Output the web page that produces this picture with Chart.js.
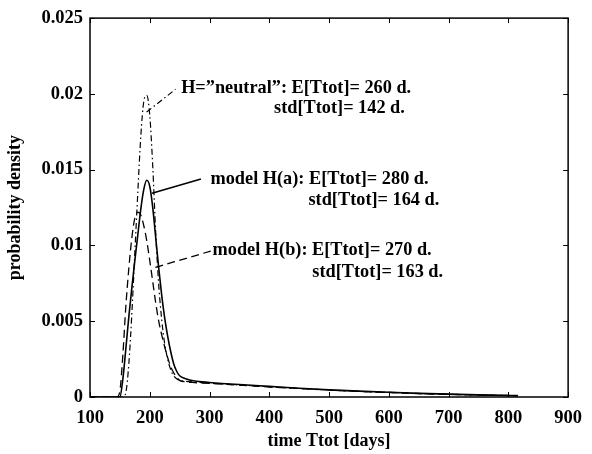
<!DOCTYPE html>
<html>
<head>
<meta charset="utf-8">
<script src="https://cdn.jsdelivr.net/npm/chart.js@4.4.1/dist/chart.umd.min.js"></script>
<style>
body { margin: 0; background: #fff; }
canvas { display: block; }
</style>
</head>
<body>
<canvas id="chart" width="592" height="454"></canvas>
<script>
// time Ttot [days]
const days = [100, 145, 150, 155, 160, 165, 170, 175, 180, 185, 190, 195, 200, 205, 210, 215, 220, 225, 230, 235, 240, 245, 250, 260, 275, 300, 350, 400, 450, 500, 550, 600, 650, 700, 750, 800, 816];

// probability density per model
const neutral = [0, 0, 0, 0, 0.0003, 0.0022, 0.0055, 0.0095, 0.0135, 0.0172, 0.0195, 0.0199, 0.0186, 0.0152, 0.0108, 0.0074, 0.0051, 0.0035, 0.0025, 0.0018, 0.0014, 0.0012, 0.0011, 0.00103, 0.00098, 0.00092, 0.00079, 0.00067, 0.00056, 0.00046, 0.00037, 0.0003, 0.00023, 0.00018, 0.00013, 0.0001, 0.00008];
const modelA = [0, 0, 0, 0.0012, 0.0032, 0.0053, 0.0072, 0.009, 0.0107, 0.0124, 0.0137, 0.0143, 0.0139, 0.0125, 0.0105, 0.0085, 0.0067, 0.0052, 0.004, 0.003, 0.0022, 0.0017, 0.0014, 0.0012, 0.00105, 0.00096, 0.00082, 0.0007, 0.00058, 0.00048, 0.00039, 0.00031, 0.00024, 0.00019, 0.00014, 0.0001, 0.00009];
const modelB = [0, 0, 0.0004, 0.0028, 0.006, 0.0085, 0.0105, 0.0118, 0.0122, 0.012, 0.0113, 0.0103, 0.009, 0.0076, 0.0062, 0.005, 0.0041, 0.0033, 0.0026, 0.002, 0.0016, 0.0013, 0.0011, 0.001, 0.00095, 0.0009, 0.00078, 0.00067, 0.00056, 0.00046, 0.00037, 0.0003, 0.00023, 0.00018, 0.00013, 0.0001, 0.00008];

// leader lines from curve to label, [day, density]
const leaderNeutral = [[194.7, 0.0188], [243, 0.0203]];
const leaderA = [[203.7, 0.01345], [285.7, 0.01438]];
const leaderB = [[209.3, 0.00855], [302, 0.00963]];

const xTicks = [100, 200, 300, 400, 500, 600, 700, 800, 900];
const yTicks = [0, 0.005, 0.01, 0.015, 0.02, 0.025];
const yTickLabels = ['0', '0.005', '0.01', '0.015', '0.02', '0.025'];

const notes = [
    { text: 'H=\u201dneutral\u201d: E[Ttot]= 260 d.', x: 252.5, y: 0.0204 },
    { text: 'std[Ttot]= 142 d.', x: 408, y: 0.01904 },
    { text: 'model H(a): E[Ttot]= 280 d.', x: 301.6, y: 0.01438 },
    { text: 'std[Ttot]= 164 d.', x: 465.6, y: 0.01295 },
    { text: 'model H(b): E[Ttot]= 270 d.', x: 305, y: 0.00965 },
    { text: 'std[Ttot]= 163 d.', x: 472, y: 0.00823 }
];

const serif = "'Liberation Serif', 'Times New Roman', serif";
const DASHDOT = [6, 3, 1.5, 3];
const DASHED = [8, 4.5];

function toPoints(xs, ys) {
    return xs.map((x, i) => ({ x: x, y: ys[i] }));
}

function pairPoints(pairs) {
    return pairs.map(p => ({ x: p[0], y: p[1] }));
}

function line(data, dash, width) {
    return {
        data: data,
        borderColor: '#000',
        borderWidth: width,
        borderDash: dash,
        pointRadius: 0,
        fill: false,
        cubicInterpolationMode: 'monotone'
    };
}

const frame = {
    id: 'frame',
    afterDraw(chart) {
        const ctx = chart.ctx;
        const a = chart.chartArea;
        const xs = chart.scales.x;
        const ys = chart.scales.y;
        ctx.save();
        ctx.strokeStyle = '#000';
        ctx.lineWidth = 1.5;
        ctx.strokeRect(a.left, a.top, a.right - a.left, a.bottom - a.top);
        ctx.lineWidth = 1;
        ctx.beginPath();
        xTicks.forEach(v => {
            const px = Math.round(xs.getPixelForValue(v)) + 0.5;
            ctx.moveTo(px, a.bottom); ctx.lineTo(px, a.bottom - 5);
            ctx.moveTo(px, a.top); ctx.lineTo(px, a.top + 5);
        });
        yTicks.forEach(v => {
            const py = Math.round(ys.getPixelForValue(v)) + 0.5;
            ctx.moveTo(a.left, py); ctx.lineTo(a.left + 5, py);
            ctx.moveTo(a.right, py); ctx.lineTo(a.right - 5, py);
        });
        ctx.stroke();

        ctx.fillStyle = '#000';
        ctx.font = 'bold 18.3px ' + serif;
        ctx.textAlign = 'left';
        ctx.textBaseline = 'middle';
        notes.forEach(n => {
            ctx.fillText(n.text, xs.getPixelForValue(n.x), ys.getPixelForValue(n.y));
        });
        ctx.restore();
    }
};

new Chart(document.getElementById('chart'), {
    type: 'line',
    data: {
        datasets: [
            line(toPoints(days, neutral), DASHDOT, 1.2),
            line(toPoints(days, modelA), [], 1.6),
            line(toPoints(days, modelB), DASHED, 1.3),
            line(pairPoints(leaderNeutral), DASHDOT, 1.2),
            line(pairPoints(leaderA), [], 1.6),
            line(pairPoints(leaderB), DASHED, 1.3)
        ]
    },
    options: {
        responsive: false,
        animation: false,
        layout: { padding: { left: 0, top: 11, right: 14, bottom: 0 } },
        plugins: {
            legend: { display: false },
            tooltip: { enabled: false }
        },
        scales: {
            x: {
                type: 'linear',
                min: 100,
                max: 900,
                afterBuildTicks: s => { s.ticks = xTicks.map(v => ({ value: v })); },
                afterFit: s => { s.height = 57; },
                grid: { display: false, drawTicks: false },
                border: { display: false },
                ticks: {
                    color: '#000',
                    padding: 10,
                    maxRotation: 0,
                    font: { family: serif, size: 18.5, weight: 'bold' }
                },
                title: {
                    display: true,
                    text: 'time Ttot [days]',
                    color: '#000',
                    padding: { top: 0, bottom: 2 },
                    font: { family: serif, size: 18, weight: 'bold' }
                }
            },
            y: {
                min: 0,
                max: 0.025,
                afterBuildTicks: s => { s.ticks = yTicks.map(v => ({ value: v })); },
                afterFit: s => { s.width = 90; },
                grid: { display: false, drawTicks: false },
                border: { display: false },
                ticks: {
                    color: '#000',
                    padding: 7,
                    font: { family: serif, size: 18.5, weight: 'bold' },
                    callback: (v) => yTickLabels[yTicks.indexOf(v)]
                },
                title: {
                    display: true,
                    text: 'probability density',
                    color: '#000',
                    padding: { top: 5, bottom: 0 },
                    font: { family: serif, size: 18, weight: 'bold' }
                }
            }
        }
    },
    plugins: [frame]
});
</script>
</body>
</html>
